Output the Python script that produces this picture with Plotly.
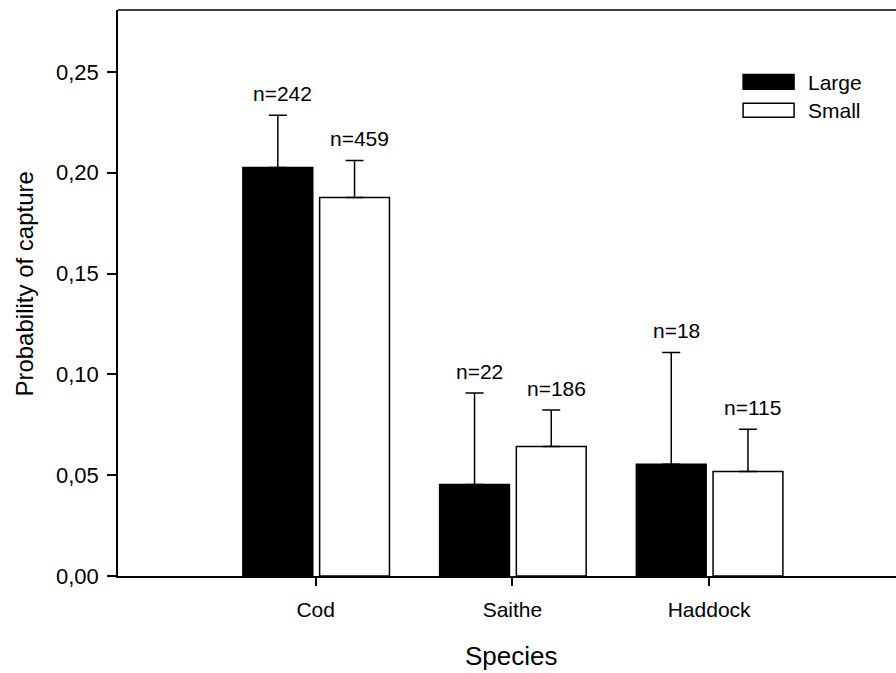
import plotly.graph_objects as go

species = ["Cod", "Saithe", "Haddock"]
large_mean = [0.2026, 0.0454, 0.0554]
large_err = [0.0259, 0.0453, 0.0555]
small_mean = [0.1877, 0.0642, 0.0518]
small_err = [0.0183, 0.0181, 0.0210]
large_n = ["n=242", "n=22", "n=18"]
small_n = ["n=459", "n=186", "n=115"]
y_ticks = [0.0, 0.05, 0.10, 0.15, 0.20, 0.25]

FONT = "Liberation Sans, Arial, sans-serif"
W, H = 896, 673
L, R, T, B = 117.5, 0.0, 9.5, 96.5
PW = W - L - R
PH = H - T - B

def px(x):
    return (x - L) / PW

def py(y):
    return (H - B - y) / PH

xpos = list(range(len(species)))
bw = 0.355

fig = go.Figure()
fig.add_trace(go.Bar(
    x=xpos, y=large_mean, name="Large", width=bw, offset=-0.37,
    marker=dict(color="black", line=dict(color="black", width=1.5)),
    error_y=dict(type="data", symmetric=False, array=large_err,
                 arrayminus=[0] * len(large_err), color="black",
                 thickness=1.5, width=9),
    showlegend=False,
))
fig.add_trace(go.Bar(
    x=xpos, y=small_mean, name="Small", width=bw, offset=0.02,
    marker=dict(color="white", line=dict(color="black", width=1.5)),
    error_y=dict(type="data", symmetric=False, array=small_err,
                 arrayminus=[0] * len(small_err), color="black",
                 thickness=1.5, width=9),
    showlegend=False,
))

annotations = []
for i in xpos:
    annotations.append(dict(x=i - 0.37 + bw / 2, y=large_mean[i] + large_err[i],
                            xref="x", yref="y", text=large_n[i], showarrow=False,
                            xshift=5, yshift=22, yanchor="middle",
                            font=dict(family=FONT, size=21, color="black")))
    annotations.append(dict(x=i + 0.02 + bw / 2, y=small_mean[i] + small_err[i],
                            xref="x", yref="y", text=small_n[i], showarrow=False,
                            xshift=5, yshift=22, yanchor="middle",
                            font=dict(family=FONT, size=21, color="black")))

# axis titles
annotations.append(dict(x=px(511.7), y=py(657), xref="paper", yref="paper",
                        text="Species", showarrow=False, xanchor="center", yanchor="middle",
                        font=dict(family=FONT, size=26, color="black")))
annotations.append(dict(x=px(23), y=py(284), xref="paper", yref="paper",
                        text="Probability of capture", showarrow=False, textangle=-90,
                        xanchor="center", yanchor="middle",
                        font=dict(family=FONT, size=24, color="black")))

# manual legend
shapes = [
    dict(type="line", xref="paper", yref="paper", x0=0, x1=1, y0=1, y1=1,
         line=dict(color="black", width=1.5)),
    dict(type="rect", xref="paper", yref="paper", x0=px(743), x1=px(794),
         y0=py(89), y1=py(74), fillcolor="black", line=dict(color="black", width=1.5)),
    dict(type="rect", xref="paper", yref="paper", x0=px(743), x1=px(794),
         y0=py(117), y1=py(103), fillcolor="white", line=dict(color="black", width=1.5)),
]
for label, yc in (("Large", 82), ("Small", 110)):
    annotations.append(dict(x=px(806), y=py(yc), xref="paper", yref="paper",
                            text=label, showarrow=False, xanchor="left", yanchor="middle",
                            font=dict(family=FONT, size=21, color="black")))

fig.update_layout(
    width=W, height=H,
    margin=dict(l=L, r=R, t=T, b=B, pad=0),
    paper_bgcolor="white", plot_bgcolor="white",
    separators=",.",
    barmode="overlay",
    font=dict(family=FONT, size=21, color="black"),
    xaxis=dict(range=[-1.005, 2.95], tickvals=xpos, ticktext=species,
               showline=True, linecolor="black", linewidth=1.5,
               ticks="outside", ticklen=8, tickwidth=1.5, tickcolor="black",
               showgrid=False, zeroline=False, ticklabelstandoff=6,
               tickfont=dict(family=FONT, size=21, color="black")),
    yaxis=dict(range=[0, 0.2807], tickvals=y_ticks, tickformat=".2f",
               showline=True, linecolor="black", linewidth=1.5,
               ticks="outside", ticklen=9, tickwidth=1.5, tickcolor="black",
               showgrid=False, zeroline=False, ticklabelstandoff=4,
               tickfont=dict(family=FONT, size=22, color="black")),
    annotations=annotations,
    shapes=shapes,
)

fig.write_html("out.html")
